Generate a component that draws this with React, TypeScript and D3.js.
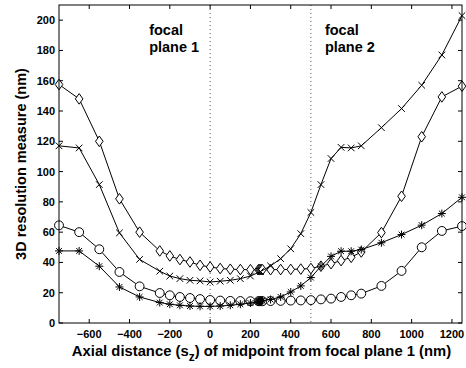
import React, { useEffect, useRef } from 'react';
import * as d3 from 'd3';

// sample positions (nm); the cluster around 250 is shared by three curves
const xFine = [-750, -650, -550, -450, -350, -250, -200, -150, -100, -50, 0, 50, 100, 150, 200,
  240, 245, 250, 255, 260, 300, 350, 400, 450, 500, 550, 600, 650, 700, 750, 850, 950, 1050, 1150, 1250];
const xCross = [-750, -650, -550, -450, -350, -250, -200, -150, -100, -50, 0, 50, 100, 150, 200,
  250, 300, 350, 400, 450, 500, 550, 600, 650, 700, 750, 850, 950, 1050, 1150, 1250];

const diamondVals = [157.5, 148, 120, 82, 60, 47.6, 44.3, 41.9, 40.3, 38.1, 37, 36, 35.5, 35.3, 35.2,
  35.2, 35.2, 35.2, 35.2, 35.2, 35.2, 35.3, 35.4, 35.6, 36, 37.5, 39.2, 41.2, 43.4, 46.9, 59.7, 83.7, 123, 149.3, 156.4];
const crossVals = [117, 115.6, 91.4, 59.5, 42, 34.2, 31, 29.3, 28.2, 27.8, 27.1, 27.6, 28.2, 29.3, 31,
  34, 37.7, 42.5, 49, 59, 73, 91.4, 108.6, 116, 115.6, 117, 129, 141.6, 157, 177, 203];
const circleVals = [64.5, 60, 48.7, 33.7, 24.2, 19.8, 18.3, 17.2, 16.5, 15.8, 15.2, 14.8, 14.6, 14.5, 14.4,
  14.4, 14.4, 14.4, 14.4, 14.4, 14.5, 14.6, 14.8, 14.9, 15.1, 15.6, 16.1, 17.2, 18.3, 19.4, 24.5, 34.4, 50, 60.8, 64];
const starVals = [47.6, 47.6, 37.5, 23.8, 17.2, 13.5, 12.4, 11.7, 11.2, 11, 11, 11.2, 11.7, 12.4, 13.2,
  14, 14.2, 14.4, 14.6, 14.8, 15.5, 17.2, 20.5, 24.5, 30, 37.5, 44, 47.4, 47.4, 48.5, 53, 58.4, 64.6, 72.3, 83];

const xTicks = [-600, -400, -200, 0, 200, 400, 600, 800, 1000, 1200];
const yTicks = [0, 20, 40, 60, 80, 100, 120, 140, 160, 180, 200];
const focalPlanes = [0, 500];

const App = () => {
  const svgRef = useRef<SVGSVGElement>(null);

  useEffect(() => {
    const svg = d3.select(svgRef.current);
    svg.selectAll('*').remove();

    const left = 59, right = 462, top = 5, bottom = 323;
    const x = d3.scaleLinear().domain([-750, 1250]).range([left, right]);
    const y = d3.scaleLinear().domain([0, 210]).range([bottom, top]);
    const font = 'Liberation Sans, Arial, sans-serif';

    const g = svg.append('g');

    // dotted focal plane markers
    g.selectAll('line.focal')
      .data(focalPlanes)
      .enter().append('line')
      .attr('x1', d => x(d)).attr('x2', d => x(d))
      .attr('y1', top).attr('y2', bottom)
      .attr('stroke', '#555').attr('stroke-width', 1)
      .attr('stroke-dasharray', '1,3');

    // ticks inside on all four sides
    const tl = 4;
    xTicks.forEach(t => {
      g.append('line').attr('x1', x(t)).attr('x2', x(t)).attr('y1', bottom).attr('y2', bottom - tl).attr('stroke', '#000');
      g.append('line').attr('x1', x(t)).attr('x2', x(t)).attr('y1', top).attr('y2', top + tl).attr('stroke', '#000');
      g.append('text').attr('x', x(t)).attr('y', bottom + 15)
        .attr('text-anchor', 'middle').attr('font-family', font).attr('font-weight', 'bold').attr('font-size', 11)
        .text(d3.format('')(t));
    });
    yTicks.forEach(t => {
      g.append('line').attr('x1', left).attr('x2', left + tl).attr('y1', y(t)).attr('y2', y(t)).attr('stroke', '#000');
      g.append('line').attr('x1', right).attr('x2', right - tl).attr('y1', y(t)).attr('y2', y(t)).attr('stroke', '#000');
      g.append('text').attr('x', left - 4).attr('y', y(t) + 4)
        .attr('text-anchor', 'end').attr('font-family', font).attr('font-weight', 'bold').attr('font-size', 11)
        .text(t);
    });

    const line = d3.line<[number, number]>().x(d => x(d[0])).y(d => y(d[1]));
    const series = [
      { xs: xFine, ys: diamondVals, mark: 'diamond' },
      { xs: xCross, ys: crossVals, mark: 'cross' },
      { xs: xFine, ys: circleVals, mark: 'circle' },
      { xs: xFine, ys: starVals, mark: 'star' },
    ];

    series.forEach(s => {
      const pts = s.xs.map((v, i) => [v, s.ys[i]] as [number, number]);
      g.append('path').datum(pts).attr('d', line)
        .attr('fill', 'none').attr('stroke', '#000').attr('stroke-width', 1);
      const m = g.append('g').selectAll('path').data(pts).enter().append('path')
        .attr('transform', d => `translate(${x(d[0])},${y(d[1])})`)
        .attr('fill', 'none').attr('stroke', '#000').attr('stroke-width', 1);
      if (s.mark === 'diamond') m.attr('d', 'M0,-5.3L3.8,0L0,5.3L-3.8,0Z').attr('fill', '#fff');
      if (s.mark === 'circle') m.attr('d', d3.symbol(d3.symbolCircle, 62)()).attr('fill', '#fff');
      if (s.mark === 'cross') m.attr('d', 'M-3.3,-3.3L3.3,3.3M-3.3,3.3L3.3,-3.3');
      if (s.mark === 'star') m.attr('d', 'M-4,0L4,0M0,-4L0,4M-2.9,-2.9L2.9,2.9M-2.9,2.9L2.9,-2.9');
    });

    // frame
    g.append('rect').attr('x', left).attr('y', top).attr('width', right - left).attr('height', bottom - top)
      .attr('fill', 'none').attr('stroke', '#000').attr('stroke-width', 1);

    // annotations
    const ann = [{ at: 0, dx: -61, lines: ['focal', 'plane 1'] }, { at: 500, dx: 14, lines: ['focal', 'plane 2'] }];
    ann.forEach(a => {
      a.lines.forEach((l, i) => {
        g.append('text').attr('x', x(a.at) + a.dx).attr('y', 35 + i * 17)
          .attr('font-family', font).attr('font-weight', 'bold').attr('font-size', 14.5).text(l);
      });
    });

    // axis labels
    const xl = g.append('text').attr('x', (left + right) / 2 + 1).attr('y', 356)
      .attr('text-anchor', 'middle').attr('font-family', font).attr('font-weight', 'bold').attr('font-size', 14.8);
    xl.append('tspan').text('Axial distance (s');
    xl.append('tspan').attr('dy', 5).attr('font-size', 12).text('z');
    xl.append('tspan').attr('dy', -5).text(') of midpoint from focal plane 1 (nm)');

    g.append('text').attr('transform', `translate(26,${(top + bottom) / 2}) rotate(-90)`)
      .attr('text-anchor', 'middle').attr('font-family', font).attr('font-weight', 'bold').attr('font-size', 14.5)
      .text('3D resolution measure (nm)');
  }, []);

  return (
    <svg ref={svgRef} width="466" height="368" style={{ position: 'absolute', left: 0, top: 0, background: '#fff' }}></svg>
  );
};

export default App;
